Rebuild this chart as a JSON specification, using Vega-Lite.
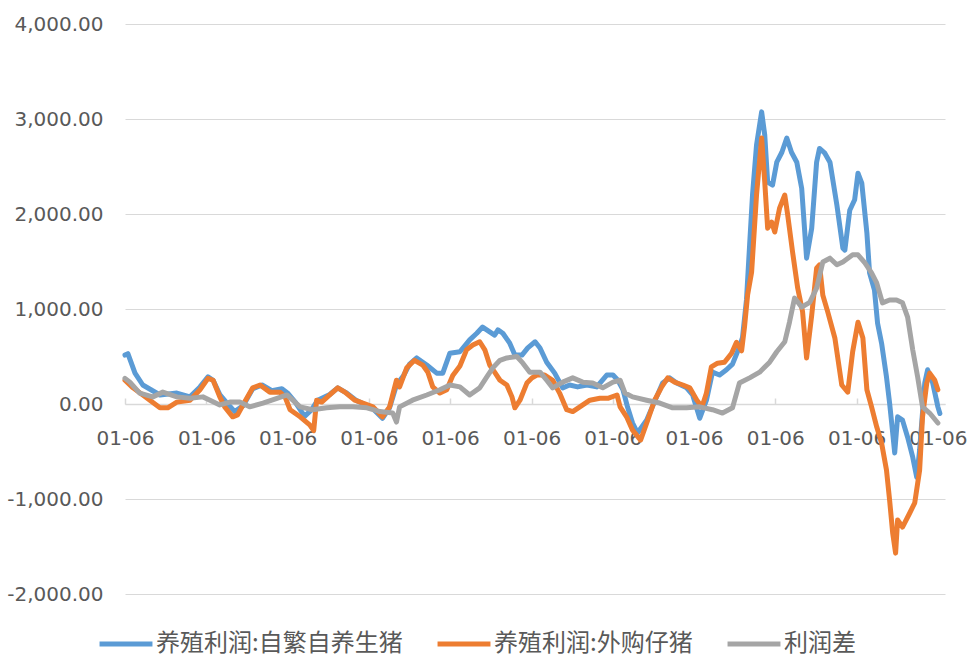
{
"$schema": "https://vega.github.io/schema/vega-lite/v6.json",
"width": 820, "height": 570,
"autosize": {"type": "none"},
"padding": {"left": 125, "top": 24, "right": 24, "bottom": 63},
"background": "white",
"config": {"view": {"stroke": null}, "font": "DejaVu Sans"},
"data": {"values": [
{"d":"2012-01-06","s":"养殖利润:自繁自养生猪","v":515},
{"d":"2012-01-19","s":"养殖利润:自繁自养生猪","v":530},
{"d":"2012-02-20","s":"养殖利润:自繁自养生猪","v":325},
{"d":"2012-03-26","s":"养殖利润:自繁自养生猪","v":200},
{"d":"2012-06-11","s":"养殖利润:自繁自养生猪","v":95},
{"d":"2012-08-26","s":"养殖利润:自繁自养生猪","v":115},
{"d":"2012-10-24","s":"养殖利润:自繁自养生猪","v":75},
{"d":"2012-12-08","s":"养殖利润:自繁自养生猪","v":180},
{"d":"2013-01-13","s":"养殖利润:自繁自养生猪","v":285},
{"d":"2013-02-05","s":"养殖利润:自繁自养生猪","v":250},
{"d":"2013-03-07","s":"养殖利润:自繁自养生猪","v":100},
{"d":"2013-04-12","s":"养殖利润:自繁自养生猪","v":0},
{"d":"2013-05-13","s":"养殖利润:自繁自养生猪","v":-80},
{"d":"2013-06-19","s":"养殖利润:自繁自养生猪","v":-20},
{"d":"2013-08-02","s":"养殖利润:自繁自养生猪","v":160},
{"d":"2013-09-13","s":"养殖利润:自繁自养生猪","v":200},
{"d":"2013-10-27","s":"养殖利润:自繁自养生猪","v":140},
{"d":"2013-12-11","s":"养殖利润:自繁自养生猪","v":160},
{"d":"2014-01-08","s":"养殖利润:自繁自养生猪","v":110},
{"d":"2014-02-09","s":"养殖利润:自繁自养生猪","v":20},
{"d":"2014-03-23","s":"养殖利润:自繁自养生猪","v":-130},
{"d":"2014-04-24","s":"养殖利润:自繁自养生猪","v":-60},
{"d":"2014-05-21","s":"养殖利润:自繁自养生猪","v":40},
{"d":"2014-07-14","s":"养殖利润:自繁自养生猪","v":100},
{"d":"2014-08-19","s":"养殖利润:自繁自养生猪","v":170},
{"d":"2014-09-25","s":"养殖利润:自繁自养生猪","v":120},
{"d":"2014-11-09","s":"养殖利润:自繁自养生猪","v":40},
{"d":"2014-12-14","s":"养殖利润:自繁自养生猪","v":0},
{"d":"2015-01-24","s":"养殖利润:自繁自养生猪","v":-50},
{"d":"2015-03-08","s":"养殖利润:自繁自养生猪","v":-150},
{"d":"2015-04-09","s":"养殖利润:自繁自养生猪","v":-40},
{"d":"2015-05-10","s":"养殖利润:自繁自养生猪","v":200},
{"d":"2015-06-11","s":"养殖利润:自繁自养生猪","v":300},
{"d":"2015-07-08","s":"养殖利润:自繁自养生猪","v":420},
{"d":"2015-08-09","s":"养殖利润:自繁自养生猪","v":485},
{"d":"2015-09-23","s":"养殖利润:自繁自养生猪","v":410},
{"d":"2015-11-07","s":"养殖利润:自繁自养生猪","v":325},
{"d":"2015-12-04","s":"养殖利润:自繁自养生猪","v":325},
{"d":"2016-01-05","s":"养殖利润:自繁自养生猪","v":535},
{"d":"2016-02-19","s":"养殖利润:自繁自养生猪","v":550},
{"d":"2016-04-03","s":"养殖利润:自繁自养生猪","v":675},
{"d":"2016-05-05","s":"养殖利润:自繁自养生猪","v":745},
{"d":"2016-05-31","s":"养殖利润:自繁自养生猪","v":810},
{"d":"2016-07-02","s":"养殖利润:自繁自养生猪","v":760},
{"d":"2016-07-24","s":"养殖利润:自繁自养生猪","v":725},
{"d":"2016-08-08","s":"养殖利润:自繁自养生猪","v":780},
{"d":"2016-08-30","s":"养殖利润:自繁自养生猪","v":745},
{"d":"2016-09-30","s":"养殖利润:自繁自养生猪","v":640},
{"d":"2016-10-23","s":"养殖利润:自繁自养生猪","v":515},
{"d":"2016-11-24","s":"养殖利润:自繁自养生猪","v":515},
{"d":"2016-12-20","s":"养殖利润:自繁自养生猪","v":590},
{"d":"2017-01-22","s":"养殖利润:自繁自养生猪","v":655},
{"d":"2017-02-13","s":"养殖利润:自繁自养生猪","v":590},
{"d":"2017-03-15","s":"养殖利润:自繁自养生猪","v":440},
{"d":"2017-04-20","s":"养殖利润:自繁自养生猪","v":325},
{"d":"2017-05-26","s":"养殖利润:自繁自养生猪","v":170},
{"d":"2017-06-26","s":"养殖利润:自繁自养生猪","v":200},
{"d":"2017-08-01","s":"养殖利润:自繁自养生猪","v":180},
{"d":"2017-09-12","s":"养殖利润:自繁自养生猪","v":200},
{"d":"2017-10-26","s":"养殖利润:自繁自养生猪","v":180},
{"d":"2017-12-10","s":"养殖利润:自繁自养生猪","v":305},
{"d":"2018-01-07","s":"养殖利润:自繁自养生猪","v":305},
{"d":"2018-01-29","s":"养殖利润:自繁自养生猪","v":250},
{"d":"2018-02-21","s":"养殖利润:自繁自养生猪","v":150},
{"d":"2018-03-13","s":"养殖利润:自繁自养生猪","v":-30},
{"d":"2018-04-05","s":"养殖利润:自繁自养生猪","v":-200},
{"d":"2018-04-27","s":"养殖利润:自繁自养生猪","v":-305},
{"d":"2018-06-07","s":"养殖利润:自繁自养生猪","v":-170},
{"d":"2018-07-22","s":"养殖利润:自繁自养生猪","v":75},
{"d":"2018-08-18","s":"养殖利润:自繁自养生猪","v":220},
{"d":"2018-09-19","s":"养殖利润:自繁自养生猪","v":275},
{"d":"2018-10-20","s":"养殖利润:自繁自养生猪","v":220},
{"d":"2018-12-04","s":"养殖利润:自繁自养生猪","v":170},
{"d":"2018-12-31","s":"养殖利润:自繁自养生猪","v":95},
{"d":"2019-02-01","s":"养殖利润:自繁自养生猪","v":-150},
{"d":"2019-03-03","s":"养殖利润:自繁自养生猪","v":40},
{"d":"2019-03-30","s":"养殖利润:自繁自养生猪","v":335},
{"d":"2019-05-01","s":"养殖利润:自繁自养生猪","v":305},
{"d":"2019-06-01","s":"养殖利润:自繁自养生猪","v":360},
{"d":"2019-06-28","s":"养殖利润:自繁自养生猪","v":420},
{"d":"2019-07-29","s":"养殖利润:自繁自养生猪","v":600},
{"d":"2019-08-12","s":"养殖利润:自繁自养生猪","v":700},
{"d":"2019-08-30","s":"养殖利润:自繁自养生猪","v":1100},
{"d":"2019-09-13","s":"养殖利润:自繁自养生猪","v":1675},
{"d":"2019-09-26","s":"养殖利润:自繁自养生猪","v":2200},
{"d":"2019-10-14","s":"养殖利润:自繁自养生猪","v":2725},
{"d":"2019-11-06","s":"养殖利润:自繁自养生猪","v":3075},
{"d":"2019-11-20","s":"养殖利润:自繁自养生猪","v":2830},
{"d":"2019-12-03","s":"养殖利润:自繁自养生猪","v":2335},
{"d":"2019-12-25","s":"养殖利润:自繁自养生猪","v":2305},
{"d":"2020-01-13","s":"养殖利润:自繁自养生猪","v":2545},
{"d":"2020-02-05","s":"养殖利润:自繁自养生猪","v":2650},
{"d":"2020-02-27","s":"养殖利润:自繁自养生猪","v":2800},
{"d":"2020-03-19","s":"养殖利润:自繁自养生猪","v":2650},
{"d":"2020-04-12","s":"养殖利润:自繁自养生猪","v":2545},
{"d":"2020-05-04","s":"养殖利润:自繁自养生猪","v":2270},
{"d":"2020-05-26","s":"养殖利润:自繁自养生猪","v":1535},
{"d":"2020-06-18","s":"养殖利润:自繁自养生猪","v":1850},
{"d":"2020-07-10","s":"养殖利润:自繁自养生猪","v":2545},
{"d":"2020-07-23","s":"养殖利润:自繁自养生猪","v":2690},
{"d":"2020-08-16","s":"养殖利润:自繁自养生猪","v":2640},
{"d":"2020-09-08","s":"养殖利润:自繁自养生猪","v":2545},
{"d":"2020-10-09","s":"养殖利润:自繁自养生猪","v":2095},
{"d":"2020-11-05","s":"养殖利润:自繁自养生猪","v":1640},
{"d":"2020-11-14","s":"养殖利润:自繁自养生猪","v":1620},
{"d":"2020-12-06","s":"养殖利润:自繁自养生猪","v":2040},
{"d":"2020-12-28","s":"养殖利润:自繁自养生猪","v":2150},
{"d":"2021-01-12","s":"养殖利润:自繁自养生猪","v":2430},
{"d":"2021-01-29","s":"养殖利润:自繁自养生猪","v":2325},
{"d":"2021-02-21","s":"养殖利润:自繁自养生猪","v":1800},
{"d":"2021-03-05","s":"养殖利润:自繁自养生猪","v":1380},
{"d":"2021-03-27","s":"养殖利润:自繁自养生猪","v":1200},
{"d":"2021-04-10","s":"养殖利润:自繁自养生猪","v":850},
{"d":"2021-04-28","s":"养殖利润:自繁自养生猪","v":640},
{"d":"2021-05-20","s":"养殖利润:自繁自养生猪","v":285},
{"d":"2021-06-03","s":"养殖利润:自繁自养生猪","v":10},
{"d":"2021-06-17","s":"养殖利润:自繁自养生猪","v":-305},
{"d":"2021-06-26","s":"养殖利润:自繁自养生猪","v":-515},
{"d":"2021-07-09","s":"养殖利润:自繁自养生猪","v":-135},
{"d":"2021-07-31","s":"养殖利润:自繁自养生猪","v":-170},
{"d":"2021-08-23","s":"养殖利润:自繁自养生猪","v":-350},
{"d":"2021-09-15","s":"养殖利润:自繁自养生猪","v":-560},
{"d":"2021-10-03","s":"养殖利润:自繁自养生猪","v":-770},
{"d":"2021-10-16","s":"养殖利润:自繁自养生猪","v":-485},
{"d":"2021-11-08","s":"养殖利润:自繁自养生猪","v":220},
{"d":"2021-11-21","s":"养殖利润:自繁自养生猪","v":360},
{"d":"2021-12-14","s":"养殖利润:自繁自养生猪","v":220},
{"d":"2022-01-06","s":"养殖利润:自繁自养生猪","v":-30},
{"d":"2022-01-15","s":"养殖利润:自繁自养生猪","v":-100},
{"d":"2012-01-06","s":"养殖利润:外购仔猪","v":250},
{"d":"2012-02-11","s":"养殖利润:外购仔猪","v":170},
{"d":"2012-03-26","s":"养殖利润:外购仔猪","v":95},
{"d":"2012-06-11","s":"养殖利润:外购仔猪","v":-40},
{"d":"2012-07-16","s":"养殖利润:外购仔猪","v":-40},
{"d":"2012-08-26","s":"养殖利润:外购仔猪","v":20},
{"d":"2012-10-24","s":"养殖利润:外购仔猪","v":40},
{"d":"2012-12-08","s":"养殖利润:外购仔猪","v":150},
{"d":"2013-01-13","s":"养殖利润:外购仔猪","v":270},
{"d":"2013-02-05","s":"养殖利润:外购仔猪","v":250},
{"d":"2013-03-07","s":"养殖利润:外购仔猪","v":75},
{"d":"2013-03-29","s":"养殖利润:外购仔猪","v":-30},
{"d":"2013-05-04","s":"养殖利润:外购仔猪","v":-135},
{"d":"2013-05-26","s":"养殖利润:外购仔猪","v":-115},
{"d":"2013-06-19","s":"养殖利润:外购仔猪","v":-10},
{"d":"2013-08-02","s":"养殖利润:外购仔猪","v":170},
{"d":"2013-09-04","s":"养殖利润:外购仔猪","v":200},
{"d":"2013-10-18","s":"养殖利润:外购仔猪","v":125},
{"d":"2013-12-02","s":"养殖利润:外购仔猪","v":125},
{"d":"2013-12-25","s":"养殖利润:外购仔猪","v":75},
{"d":"2014-01-17","s":"养殖利润:外购仔猪","v":-60},
{"d":"2014-03-03","s":"养殖利润:外购仔猪","v":-135},
{"d":"2014-04-15","s":"养殖利润:外购仔猪","v":-220},
{"d":"2014-05-03","s":"养殖利润:外购仔猪","v":-280},
{"d":"2014-05-16","s":"养殖利润:外购仔猪","v":40},
{"d":"2014-06-08","s":"养殖利润:外购仔猪","v":20},
{"d":"2014-07-14","s":"养殖利润:外购仔猪","v":95},
{"d":"2014-08-19","s":"养殖利润:外购仔猪","v":170},
{"d":"2014-09-20","s":"养殖利润:外购仔猪","v":125},
{"d":"2014-11-04","s":"养殖利润:外购仔猪","v":40},
{"d":"2014-12-10","s":"养殖利润:外购仔猪","v":10},
{"d":"2015-01-24","s":"养殖利润:外购仔猪","v":-30},
{"d":"2015-03-08","s":"养殖利润:外购仔猪","v":-135},
{"d":"2015-04-09","s":"养殖利润:外购仔猪","v":-30},
{"d":"2015-05-10","s":"养殖利润:外购仔猪","v":250},
{"d":"2015-05-24","s":"养殖利润:外购仔猪","v":180},
{"d":"2015-06-25","s":"养殖利润:外购仔猪","v":380},
{"d":"2015-07-30","s":"养殖利润:外购仔猪","v":460},
{"d":"2015-09-05","s":"养殖利润:外购仔猪","v":410},
{"d":"2015-09-28","s":"养殖利润:外购仔猪","v":335},
{"d":"2015-10-20","s":"养殖利润:外购仔猪","v":180},
{"d":"2015-11-21","s":"养殖利润:外购仔猪","v":115},
{"d":"2015-12-22","s":"养殖利润:外购仔猪","v":150},
{"d":"2016-01-18","s":"养殖利润:外购仔猪","v":300},
{"d":"2016-02-19","s":"养殖利润:外购仔猪","v":400},
{"d":"2016-03-20","s":"养殖利润:外购仔猪","v":570},
{"d":"2016-04-17","s":"养殖利润:外购仔猪","v":620},
{"d":"2016-05-18","s":"养殖利润:外购仔猪","v":655},
{"d":"2016-06-10","s":"养殖利润:外购仔猪","v":570},
{"d":"2016-07-02","s":"养殖利润:外购仔猪","v":410},
{"d":"2016-07-24","s":"养殖利润:外购仔猪","v":335},
{"d":"2016-08-17","s":"养殖利润:外购仔猪","v":250},
{"d":"2016-09-17","s":"养殖利润:外购仔猪","v":200},
{"d":"2016-10-10","s":"养殖利润:外购仔猪","v":75},
{"d":"2016-10-23","s":"养殖利润:外购仔猪","v":-40},
{"d":"2016-11-15","s":"养殖利润:外购仔猪","v":40},
{"d":"2016-12-16","s":"养殖利润:外购仔猪","v":220},
{"d":"2017-01-08","s":"养殖利润:外购仔猪","v":275},
{"d":"2017-01-30","s":"养殖利润:外购仔猪","v":305},
{"d":"2017-03-06","s":"养殖利润:外购仔猪","v":305},
{"d":"2017-04-11","s":"养殖利润:外购仔猪","v":250},
{"d":"2017-05-12","s":"养殖利润:外购仔猪","v":115},
{"d":"2017-06-13","s":"养殖利润:外购仔猪","v":-60},
{"d":"2017-07-10","s":"养殖利润:外购仔猪","v":-80},
{"d":"2017-08-11","s":"养殖利润:外购仔猪","v":-30},
{"d":"2017-09-25","s":"养殖利润:外购仔猪","v":40},
{"d":"2017-11-09","s":"养殖利润:外购仔猪","v":60},
{"d":"2017-12-15","s":"养殖利润:外购仔猪","v":60},
{"d":"2018-01-25","s":"养殖利润:外购仔猪","v":95},
{"d":"2018-02-08","s":"养殖利润:外购仔猪","v":-30},
{"d":"2018-03-09","s":"养殖利润:外购仔猪","v":-135},
{"d":"2018-04-05","s":"养殖利润:外购仔猪","v":-275},
{"d":"2018-05-11","s":"养殖利润:外购仔猪","v":-380},
{"d":"2018-06-12","s":"养殖利润:外购仔猪","v":-170},
{"d":"2018-07-13","s":"养殖利润:外购仔猪","v":40},
{"d":"2018-08-14","s":"养殖利润:外购仔猪","v":180},
{"d":"2018-09-10","s":"养殖利润:外购仔猪","v":275},
{"d":"2018-10-11","s":"养殖利润:外购仔猪","v":230},
{"d":"2018-11-17","s":"养殖利润:外购仔猪","v":200},
{"d":"2018-12-18","s":"养殖利润:外购仔猪","v":170},
{"d":"2019-01-19","s":"养殖利润:外购仔猪","v":40},
{"d":"2019-02-11","s":"养殖利润:外购仔猪","v":-30},
{"d":"2019-03-03","s":"养殖利润:外购仔猪","v":115},
{"d":"2019-03-25","s":"养殖利润:外购仔猪","v":390},
{"d":"2019-04-22","s":"养殖利润:外购仔猪","v":430},
{"d":"2019-05-23","s":"养殖利润:外购仔猪","v":440},
{"d":"2019-06-24","s":"养殖利润:外购仔猪","v":535},
{"d":"2019-07-16","s":"养殖利润:外购仔猪","v":650},
{"d":"2019-08-08","s":"养殖利润:外购仔猪","v":560},
{"d":"2019-08-21","s":"养殖利润:外购仔猪","v":810},
{"d":"2019-09-04","s":"养殖利润:外购仔猪","v":1150},
{"d":"2019-09-22","s":"养殖利润:外购仔猪","v":1390},
{"d":"2019-10-14","s":"养殖利润:外购仔猪","v":2200},
{"d":"2019-11-06","s":"养殖利润:外购仔猪","v":2800},
{"d":"2019-11-20","s":"养殖利润:外购仔猪","v":2335},
{"d":"2019-12-03","s":"养殖利润:外购仔猪","v":1850},
{"d":"2019-12-21","s":"养殖利润:外购仔猪","v":1915},
{"d":"2020-01-04","s":"养殖利润:外购仔猪","v":1810},
{"d":"2020-01-26","s":"养殖利润:外购仔猪","v":2065},
{"d":"2020-02-18","s":"养殖利润:外购仔猪","v":2200},
{"d":"2020-03-02","s":"养殖利润:外购仔猪","v":1990},
{"d":"2020-03-24","s":"养殖利润:外购仔猪","v":1600},
{"d":"2020-04-16","s":"养殖利润:外购仔猪","v":1220},
{"d":"2020-05-08","s":"养殖利润:外购仔猪","v":970},
{"d":"2020-05-26","s":"养殖利润:外购仔猪","v":485},
{"d":"2020-06-18","s":"养殖利润:外购仔猪","v":935},
{"d":"2020-07-10","s":"养殖利润:外购仔猪","v":1430},
{"d":"2020-07-23","s":"养殖利润:外购仔猪","v":1465},
{"d":"2020-08-07","s":"养殖利润:外购仔猪","v":1145},
{"d":"2020-08-29","s":"养殖利润:外购仔猪","v":970},
{"d":"2020-09-30","s":"养殖利润:外购仔猪","v":695},
{"d":"2020-10-31","s":"养殖利润:外购仔猪","v":200},
{"d":"2020-11-27","s":"养殖利润:外购仔猪","v":125},
{"d":"2020-12-19","s":"养殖利润:外购仔猪","v":550},
{"d":"2021-01-12","s":"养殖利润:外购仔猪","v":860},
{"d":"2021-02-03","s":"养殖利润:外购仔猪","v":695},
{"d":"2021-02-21","s":"养殖利润:外购仔猪","v":150},
{"d":"2021-03-14","s":"养殖利润:外购仔猪","v":-30},
{"d":"2021-04-06","s":"养殖利润:外购仔猪","v":-240},
{"d":"2021-04-28","s":"养殖利润:外购仔猪","v":-410},
{"d":"2021-05-20","s":"养殖利润:外购仔猪","v":-695},
{"d":"2021-06-03","s":"养殖利润:外购仔猪","v":-1010},
{"d":"2021-06-17","s":"养殖利润:外购仔猪","v":-1360},
{"d":"2021-06-30","s":"养殖利润:外购仔猪","v":-1570},
{"d":"2021-07-09","s":"养殖利润:外购仔猪","v":-1220},
{"d":"2021-07-31","s":"养殖利润:外购仔猪","v":-1295},
{"d":"2021-09-01","s":"养殖利润:外购仔猪","v":-1150},
{"d":"2021-09-24","s":"养殖利润:外购仔猪","v":-1040},
{"d":"2021-10-16","s":"养殖利润:外购仔猪","v":-695},
{"d":"2021-10-29","s":"养殖利润:外购仔猪","v":-135},
{"d":"2021-11-17","s":"养殖利润:外购仔猪","v":220},
{"d":"2021-11-30","s":"养殖利润:外购仔猪","v":325},
{"d":"2021-12-23","s":"养殖利润:外购仔猪","v":250},
{"d":"2022-01-06","s":"养殖利润:外购仔猪","v":150},
{"d":"2012-01-06","s":"利润差","v":270},
{"d":"2012-01-28","s":"利润差","v":230},
{"d":"2012-03-12","s":"利润差","v":115},
{"d":"2012-05-10","s":"利润差","v":75},
{"d":"2012-06-24","s":"利润差","v":125},
{"d":"2012-08-26","s":"利润差","v":75},
{"d":"2012-10-24","s":"利润差","v":60},
{"d":"2012-12-21","s":"利润差","v":75},
{"d":"2013-01-22","s":"利润差","v":40},
{"d":"2013-03-07","s":"利润差","v":-10},
{"d":"2013-04-21","s":"利润差","v":20},
{"d":"2013-06-05","s":"利润差","v":20},
{"d":"2013-07-19","s":"利润差","v":-30},
{"d":"2013-09-17","s":"利润差","v":10},
{"d":"2013-11-19","s":"利润差","v":60},
{"d":"2014-01-03","s":"利润差","v":95},
{"d":"2014-03-03","s":"利润差","v":-30},
{"d":"2014-04-28","s":"利润差","v":-60},
{"d":"2014-06-30","s":"利润差","v":-40},
{"d":"2014-08-28","s":"利润差","v":-30},
{"d":"2014-10-26","s":"利润差","v":-30},
{"d":"2014-12-28","s":"利润差","v":-40},
{"d":"2015-02-25","s":"利润差","v":-80},
{"d":"2015-04-23","s":"利润差","v":-95},
{"d":"2015-05-10","s":"利润差","v":-190},
{"d":"2015-05-24","s":"利润差","v":-30},
{"d":"2015-07-21","s":"利润差","v":40},
{"d":"2015-09-23","s":"利润差","v":95},
{"d":"2015-11-21","s":"利润差","v":150},
{"d":"2016-01-05","s":"利润差","v":200},
{"d":"2016-02-19","s":"利润差","v":180},
{"d":"2016-04-03","s":"利润差","v":95},
{"d":"2016-05-18","s":"利润差","v":170},
{"d":"2016-06-19","s":"利润差","v":285},
{"d":"2016-07-16","s":"利润差","v":380},
{"d":"2016-08-17","s":"利润差","v":460},
{"d":"2016-09-17","s":"利润差","v":485},
{"d":"2016-11-01","s":"利润差","v":500},
{"d":"2016-11-28","s":"利润差","v":430},
{"d":"2016-12-29","s":"利润差","v":335},
{"d":"2017-02-13","s":"利润差","v":335},
{"d":"2017-03-15","s":"利润差","v":250},
{"d":"2017-04-11","s":"利润差","v":170},
{"d":"2017-05-26","s":"利润差","v":230},
{"d":"2017-07-10","s":"利润差","v":275},
{"d":"2017-08-24","s":"利润差","v":230},
{"d":"2017-10-08","s":"利润差","v":220},
{"d":"2017-11-22","s":"利润差","v":170},
{"d":"2018-01-07","s":"利润差","v":230},
{"d":"2018-02-08","s":"利润差","v":250},
{"d":"2018-03-02","s":"利润差","v":115},
{"d":"2018-04-05","s":"利润差","v":75},
{"d":"2018-06-07","s":"利润差","v":40},
{"d":"2018-08-05","s":"利润差","v":10},
{"d":"2018-10-02","s":"利润差","v":-40},
{"d":"2018-12-04","s":"利润差","v":-40},
{"d":"2019-02-01","s":"利润差","v":-30},
{"d":"2019-03-30","s":"利润差","v":-60},
{"d":"2019-05-14","s":"利润差","v":-95},
{"d":"2019-06-28","s":"利润差","v":-40},
{"d":"2019-07-29","s":"利润差","v":220},
{"d":"2019-09-13","s":"利润差","v":275},
{"d":"2019-10-28","s":"利润差","v":335},
{"d":"2019-12-12","s":"利润差","v":440},
{"d":"2020-01-13","s":"利润差","v":550},
{"d":"2020-02-18","s":"利润差","v":655},
{"d":"2020-03-10","s":"利润差","v":860},
{"d":"2020-04-02","s":"利润差","v":1115},
{"d":"2020-05-04","s":"利润差","v":1020},
{"d":"2020-06-09","s":"利润差","v":1070},
{"d":"2020-07-10","s":"利润差","v":1220},
{"d":"2020-08-07","s":"利润差","v":1495},
{"d":"2020-09-08","s":"利润差","v":1535},
{"d":"2020-10-09","s":"利润差","v":1465},
{"d":"2020-11-05","s":"利润差","v":1495},
{"d":"2020-12-19","s":"利润差","v":1570},
{"d":"2021-01-12","s":"利润差","v":1570},
{"d":"2021-02-12","s":"利润差","v":1485},
{"d":"2021-03-14","s":"利润差","v":1380},
{"d":"2021-04-06","s":"利润差","v":1275},
{"d":"2021-05-02","s":"利润差","v":1065},
{"d":"2021-06-03","s":"利润差","v":1095},
{"d":"2021-07-04","s":"利润差","v":1095},
{"d":"2021-07-31","s":"利润差","v":1065},
{"d":"2021-08-23","s":"利润差","v":915},
{"d":"2021-09-15","s":"利润差","v":570},
{"d":"2021-10-07","s":"利润差","v":285},
{"d":"2021-10-29","s":"利润差","v":-30},
{"d":"2021-11-30","s":"利润差","v":-95},
{"d":"2022-01-06","s":"利润差","v":-200}
]},
"mark": {"type": "line", "strokeWidth": 5, "strokeJoin": "round", "strokeCap": "round"},
"encoding": {
  "x": {"field": "d", "type": "temporal",
    "scale": {"type": "utc", "domain": [{"year": 2012, "month": 1, "date": 6, "utc": true}, {"year": 2022, "month": 2, "date": 7, "utc": true}]},
    "axis": {"title": null,
      "values": [{"year": 2012, "month": 1, "date": 6, "utc": true},{"year": 2013, "month": 1, "date": 6, "utc": true},{"year": 2014, "month": 1, "date": 6, "utc": true},{"year": 2015, "month": 1, "date": 6, "utc": true},{"year": 2016, "month": 1, "date": 6, "utc": true},{"year": 2017, "month": 1, "date": 6, "utc": true},{"year": 2018, "month": 1, "date": 6, "utc": true},{"year": 2019, "month": 1, "date": 6, "utc": true},{"year": 2020, "month": 1, "date": 6, "utc": true},{"year": 2021, "month": 1, "date": 6, "utc": true},{"year": 2022, "month": 1, "date": 6, "utc": true}],
      "labelExpr": "utcFormat(datum.value, '%m-%d')",
      "offset": -190, "grid": false,
      "domainColor": "#d9d9d9", "domainWidth": 1.5,
      "tickColor": "#d9d9d9", "tickWidth": 1.5, "tickSize": -6,
      "labelPadding": 30, "labelFontSize": 20, "labelColor": "#595959", "labelFont": "DejaVu Sans",
      "labelFlush": false, "labelOverlap": false}},
  "y": {"field": "v", "type": "quantitative",
    "scale": {"domain": [-2000, 4000], "nice": false, "zero": false},
    "axis": {"title": null, "values": [-2000, -1000, 0, 1000, 2000, 3000, 4000],
      "labelExpr": "replace(format(datum.value, ',.2f'), '\u2212', '-')",
      "domain": false, "ticks": false, "labelPadding": 22, "labelFontSize": 20, "labelColor": "#595959", "labelFont": "DejaVu Sans",
      "gridColor": "#d9d9d9", "gridWidth": 1.2}},
  "color": {"field": "s", "type": "nominal",
    "scale": {"domain": ["养殖利润:自繁自养生猪", "养殖利润:外购仔猪", "利润差"], "range": ["#5B9BD5", "#ED7D31", "#A5A5A5"]},
    "legend": {"title": null, "orient": "none", "legendX": -28, "legendY": 591, "direction": "horizontal",
      "symbolType": "stroke", "symbolSize": 2800, "symbolStrokeWidth": 5,
      "labelFont": "Noto Sans CJK SC", "labelFontSize": 24, "labelColor": "#595959", "labelOffset": 1,
      "columnPadding": 24, "labelLimit": 400, "padding": 0}}
}
}
